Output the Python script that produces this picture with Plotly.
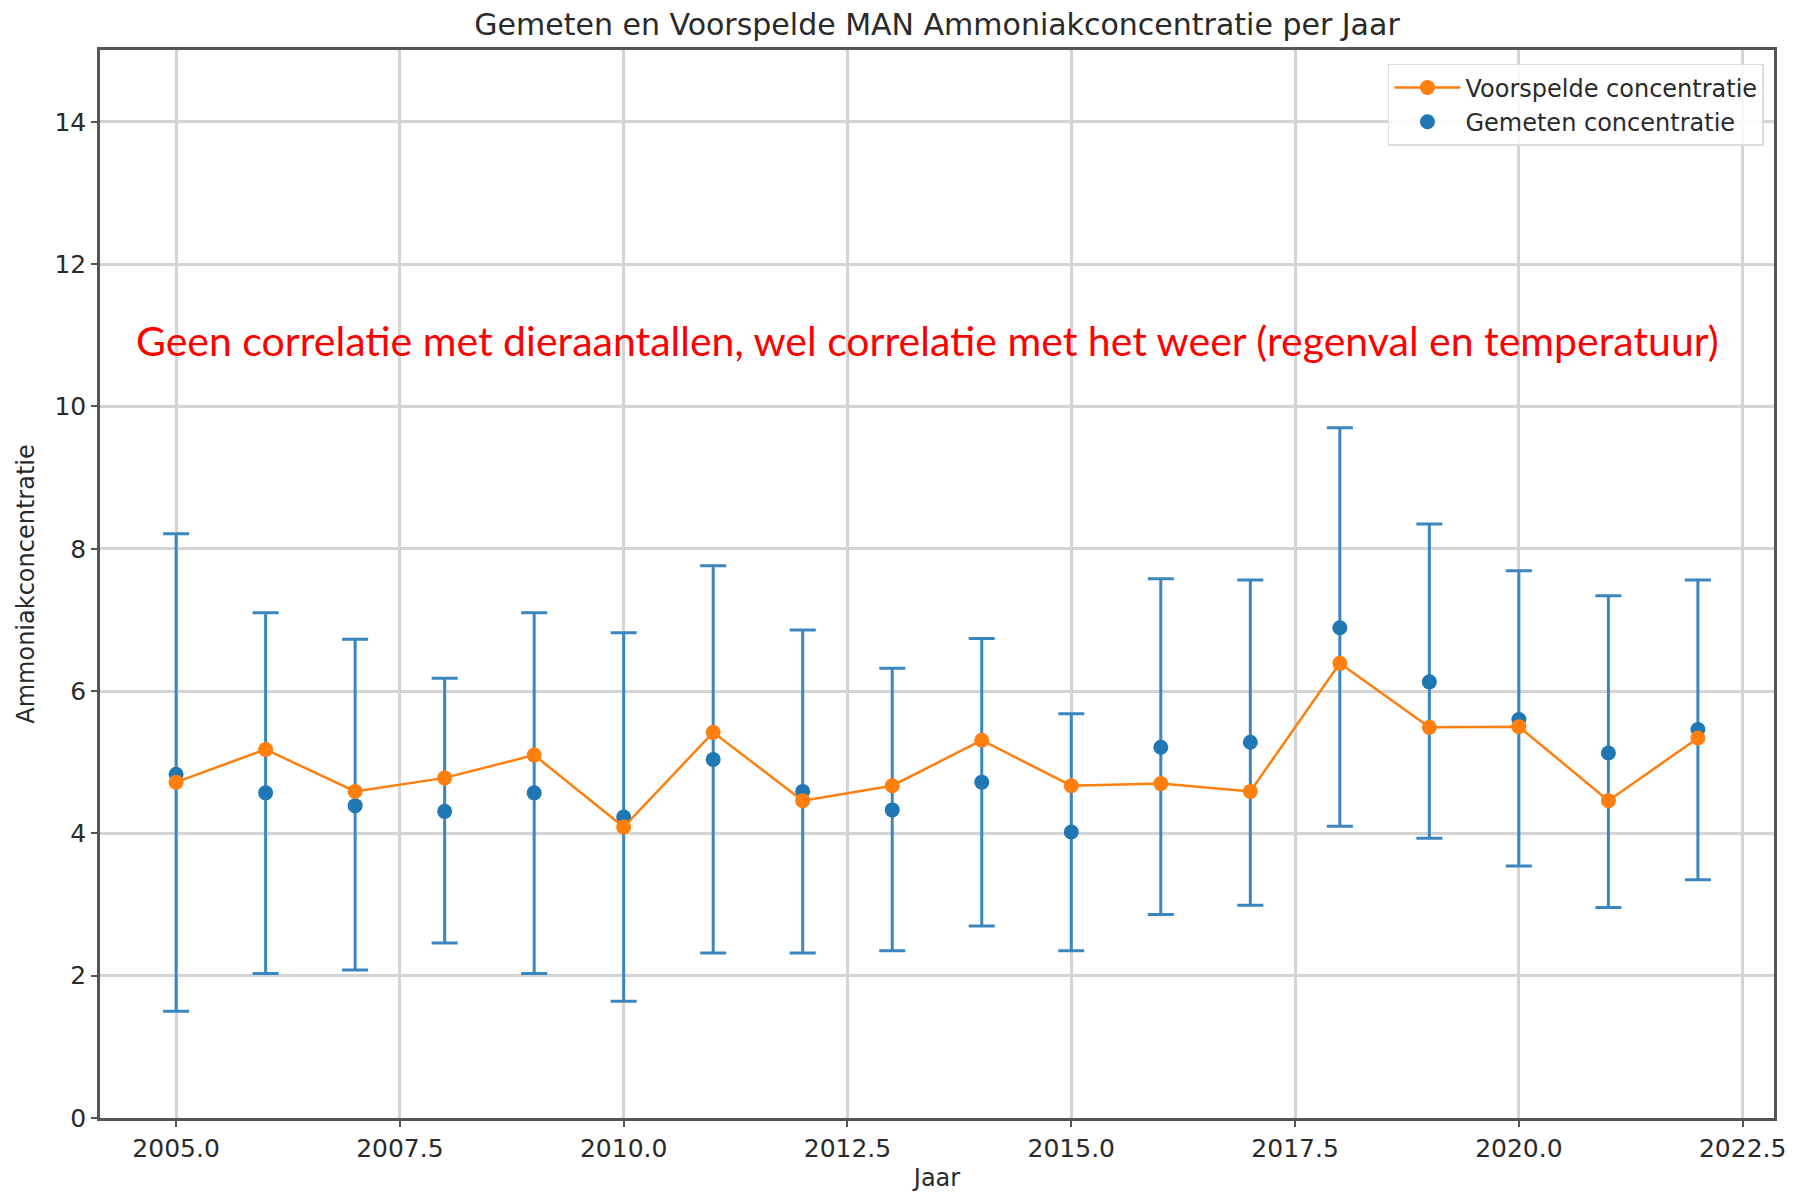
import plotly.graph_objects as go

years = [2005, 2006, 2007, 2008, 2009, 2010, 2011, 2012, 2013, 2014,
         2015, 2016, 2017, 2018, 2019, 2020, 2021, 2022]
gemeten = [4.83, 4.57, 4.39, 4.31, 4.57, 4.23, 5.04, 4.59, 4.33, 4.72,
           4.02, 5.21, 5.28, 6.89, 6.13, 5.60, 5.13, 5.46]
voorspeld = [4.72, 5.18, 4.59, 4.78, 5.10, 4.09, 5.42, 4.46, 4.67, 5.31,
             4.67, 4.70, 4.59, 6.39, 5.49, 5.50, 4.46, 5.34]
upper = [8.21, 7.10, 6.73, 6.18, 7.10, 6.82, 7.76, 6.86, 6.32, 6.74,
         5.68, 7.58, 7.56, 9.70, 8.35, 7.69, 7.34, 7.56]
lower = [1.50, 2.03, 2.08, 2.46, 2.03, 1.64, 2.32, 2.32, 2.35, 2.70,
         2.35, 2.86, 2.99, 4.10, 3.93, 3.54, 2.96, 3.35]
y_ticks = [0, 2, 4, 6, 8, 10, 12, 14]
x_ticks = [2005.0, 2007.5, 2010.0, 2012.5, 2015.0, 2017.5, 2020.0, 2022.5]

title = "Gemeten en Voorspelde MAN Ammoniakconcentratie per Jaar"
note = "Geen correlatie met dieraantallen, wel correlatie met het weer (regenval en temperatuur)"

err_plus = [u - g for u, g in zip(upper, gemeten)]
err_minus = [g - l for g, l in zip(gemeten, lower)]

BLUE = "#1f77b4"
ORANGE = "#ff7f0e"
FONT = "DejaVu Sans"
TXT = "#2a2a2a"

fig = go.Figure()
fig.add_trace(go.Scatter(
    x=years, y=gemeten, mode="markers", name="Gemeten concentratie",
    marker=dict(color=BLUE, size=15),
    error_y=dict(type="data", array=err_plus, arrayminus=err_minus,
                 color="#3a86c0", thickness=3, width=13, visible=True),
))
fig.add_trace(go.Scatter(
    x=years, y=voorspeld, mode="lines+markers", name="Voorspelde concentratie",
    line=dict(color=ORANGE, width=2.5),
    marker=dict(color=ORANGE, size=15),
))

fig.add_annotation(
    x=2013.39, y=10.93, xref="x", yref="y", text=note, showarrow=False,
    font=dict(family="Lato", size=41, color="#ff0000"),
    xanchor="center", yanchor="middle",
)

axis_common = dict(
    showgrid=True, gridcolor="#d4d4d4", gridwidth=2.5,
    showline=True, linecolor="#555555", linewidth=2.5, mirror=True,
    ticks="outside", ticklen=6, tickcolor="#555555", tickwidth=2,
    zeroline=False, automargin=False,
    tickfont=dict(family=FONT, size=25, color=TXT),
)

fig.update_layout(
    width=1794, height=1195,
    paper_bgcolor="white", plot_bgcolor="white",
    margin=dict(l=92, r=28, t=42, b=85),
    title=dict(text=title, x=0.5, xref="paper", xanchor="center",
               y=0.9858, yref="container", yanchor="middle",
               font=dict(family=FONT, size=30, color=TXT)),
    xaxis=dict(range=[2004.15, 2022.85], tickvals=x_ticks,
               ticktext=[f"{v:.1f}" for v in x_ticks],
               title=dict(text="Jaar", font=dict(family=FONT, size=24, color=TXT),
                          standoff=8),
               **axis_common),
    yaxis=dict(range=[0, 15.01], tickvals=y_ticks,
               title=dict(text="Ammoniakconcentratie",
                          font=dict(family=FONT, size=24, color=TXT),
                          standoff=14),
               **axis_common),
    legend=dict(x=0.994, y=0.987, xanchor="right", yanchor="top",
                traceorder="reversed", itemwidth=66,
                bgcolor="rgba(255,255,255,0.85)", bordercolor="#dddddd", borderwidth=1.5,
                font=dict(family=FONT, size=24, color=TXT)),
    showlegend=True,
)

fig.write_html("out.html")
